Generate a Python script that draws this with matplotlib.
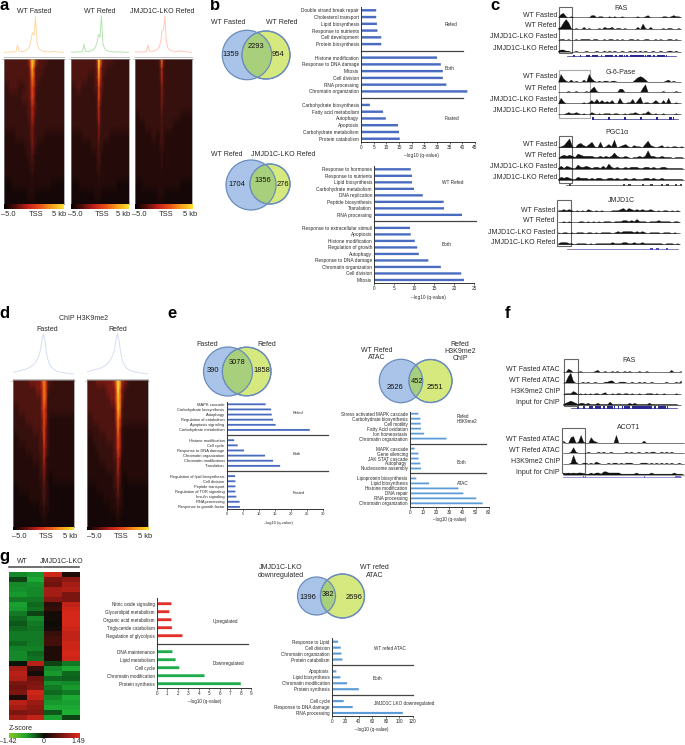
import numpy as np
import matplotlib
matplotlib.use('Agg')
import matplotlib.pyplot as plt
from matplotlib.colors import LinearSegmentedColormap
from matplotlib.patches import Circle, Rectangle

plt.rcParams['font.family'] = ['Liberation Sans', 'DejaVu Sans']

W, H = 685, 745
TXT = '#2a2a2a'

# ---- heatmap digit maps (0 dark .. 9 yellow)
a_fasted = ['33333333 46985 33322222', '33333333 35863 33222222', '33333333 34763 32222222', '22333223 34653 22222222',
            '22222233 34652 22222222', '22222222 33543 22222222', '22222222 33542 22222222', '22222222 23432 22222222',
            '11112222 23432 22111111', '11111112 22432 11111111', '11111111 22321 11111111', '11111111 12221 11111111',
            '11111111 11211 11111111', '00011111 11111 11110000', '00000000 11110 00000000', '00000000 00000 00000000']
a_refed = ['33333333 35974 33322222', '33333333 34853 32222222', '33333322 34753 22222222', '22332222 33643 22222222',
           '22222222 23642 22222222', '22222222 23532 22222222', '22222222 23532 22222222', '22222222 22432 22222222',
           '11112222 22422 22111111', '11111112 22322 11111111', '11111111 12321 11111111', '11111111 12221 11111111',
           '11111111 11211 11111111', '00011111 11111 11110000', '00000000 11110 00000000', '00000000 00000 00000000']
a_lko = ['22222222 24742 22222222', '22222222 23532 22222222', '22222222 23532 22222222', '22222222 22432 22222222',
         '22222222 22432 22222222', '22222222 22422 22222222', '11222222 22322 22221111', '11112222 22322 22111111',
         '11111122 12321 11111111', '11111111 12221 11111111', '11111111 11211 11111111', '11111111 11211 11111111',
         '11111111 11111 11111111', '00011111 11111 11110000', '00000000 11110 00000000', '00000000 00000 00000000']
d_fasted = ['33333444 46763 32222222', '33333334 45763 22222222', '33333333 35762 22222222', '22333333 35652 22222222',
            '22223333 34652 11111111', '22222233 34642 11111111', '11222222 33642 11111111', '11112222 33542 11111111',
            '11111122 23531 11111111', '11111111 23431 11111111', '11111111 22421 01111111', '00111111 12321 00000000',
            '00000111 12321 00000000', '00000000 11211 00000000', '00000000 01110 00000000', '00000000 00000 00000000']
d_refed = ['33344444 57985 43222222', '33333344 46974 32222222', '33333334 46874 22222222', '33333333 35873 22222222',
           '22333333 35763 22222222', '22223333 34752 11111111', '11222233 34652 11111111', '11122222 34652 11111111',
           '11112222 33541 11111111', '11111122 23531 11111111', '11111111 23431 01111111', '00011111 22421 00000000',
           '00000111 12321 00000000', '00000001 11211 00000000', '00000000 01110 00000000', '00000000 00000 00000000']

# ---- tss profiles
a1_profile = [.02, .02, .02, .03, .03, .03, .03, .03, .04, .22, .05, .04, .04, .05, .06, .08, .11, .18, .34, .55, .48, 1.0, .28, .14, .09, .06, .05, .04, .04, .03, .03, .03, .03, .04, .04, .03, .03, .02, .02, .02, .02]
a2_profile = [.02, .02, .02, .03, .03, .03, .03, .03, .04, .24, .05, .04, .04, .05, .06, .08, .11, .17, .30, .50, .42, 1.0, .26, .13, .08, .06, .05, .04, .04, .03, .03, .03, .03, .03, .03, .03, .02, .02, .02, .02, .02]
a3_profile = [.03, .03, .03, .03, .03, .03, .03, .03, .04, .22, .06, .05, .05, .05, .06, .08, .11, .16, .30, .60, .62, 1.0, .30, .14, .09, .07, .05, .05, .04, .04, .05, .04, .06, .05, .04, .04, .03, .03, .02, .02, .02]
d1_profile = [.06, .07, .08, .09, .10, .11, .12, .13, .14, .15, .17, .19, .21, .24, .27, .32, .38, .47, .60, .85, 1.0, .82, .52, .36, .26, .20, .16, .13, .11, .09, .08, .07, .06, .06, .05, .05, .04, .04, .03, .03, .03]
d2_profile = [.08, .09, .10, .11, .12, .13, .14, .15, .16, .17, .19, .21, .23, .26, .30, .35, .41, .50, .62, .86, 1.0, .84, .56, .38, .28, .21, .17, .14, .12, .10, .09, .08, .07, .06, .06, .05, .05, .04, .04, .03, .03]

# ---- panel b
b1_labels = ['Double strand break repair', 'Cholesterol transport', 'Lipid biosynthesis', 'Response to nutrients', 'Cell development', 'Protein biosynthesis', '',
             'Histone modification', 'Response to DNA damage', 'Mitosis', 'Cell division', 'RNA processing', 'Chromatin organization', '',
             'Carbohydrate biosynthesis', 'Fatty acid metabolism', 'Autophagy', 'Apoptosis', 'Carbohydrate metabolism', 'Protein catabolism']
b1_values = [6, 6, 6.3, 6.5, 8, 8, 0, 30, 31.5, 32.3, 32.3, 33.7, 42, 0, 3.5, 8.7, 9.8, 14.6, 15, 15.3]
b2_labels = ['Response to hormones', 'Response to nutrients', 'Lipid biosynthesis', 'Carbohydrate metabolism', 'DNA replication', 'Peptide biosynthesis', 'Translation', 'RNA processing', '',
             'Response to extracellular stimuli', 'Apoptosis', 'Histone modification', 'Regulation of growth', 'Autophagy', 'Response to DNA damage', 'Chromatin organization', 'Cell division', 'Mitosis']
b2_values = [9.2, 9.5, 9.5, 10, 12.2, 17.4, 17.5, 22, 0, 9, 9.2, 10.2, 10.8, 11.2, 13.6, 16.7, 21.8, 22.5]

# ---- panel e
e1_labels = ['MAPK cascade', 'Carbohydrate biosynthesis', 'Autophagy', 'Regulation of catabolism', 'Apoptosis signaling', 'Carbohydrate metabolism', '',
             'Histone modification', 'Cell cycle', 'Response to DNA damage', 'Chromatin organization', 'Chromatin modification', 'Translation', '',
             'Regulation of lipid biosynthesis', 'Cell division', 'Peptide transport', 'Regulation of TOR signaling', 'Insulin signaling', 'RNA processing', 'Response to growth factor']
e1_values = [12.1, 13.8, 14, 14.4, 15.2, 25.8, 0, 2.3, 3.4, 5.4, 11.9, 14.4, 16.6, 0, 2.6, 2.7, 2.7, 2.7, 3, 4, 4.1]
e2_labels = ['Stress activated MAPK cascade', 'Carbohydrate biosynthesis', 'Cell motility', 'Fatty Acid oxidation', 'Ion homeostasis', 'Chromatin organization', '',
             'MAPK cascade', 'Gene silencing', 'JAK STAT cascade', 'Autophagy', 'Nucleosome assembly', '',
             'Lipoprotein biosynthesis', 'Lipid biosynthesis', 'Histone modification', 'DNA repair', 'RNA processing', 'Chromatin organization']
e2_values = [6.6, 8.1, 8.4, 8.6, 11, 28, 0, 3.8, 6.6, 6.8, 8.1, 8.6, 0, 5, 14.7, 37, 40.8, 50.6, 55.4]

# ---- panel g
g1_labels = ['Nitric oxide signaling', 'Glycerolipid metabolism', 'Organic acid metabolism', 'Triglyceride catabolism', 'Regulation of glycolysis', '',
             'DNA maintenance', 'Lipid metabolism', 'Cell cycle', 'Chromatin modification', 'Protein synthesis']
g1_values = [1.4, 1.2, 1.4, 1.45, 2.45, 0, 1.5, 1.8, 2.15, 4.55, 8]
g2_labels = ['Response to Lipid', 'Cell division', 'Chromatin organization', 'Protein catabolism', '',
             'Apoptosis', 'Lipid biosynthesis', 'Chromatin modification', 'Protein synthesis', '',
             'Cell cycle', 'Response to DNA damage', 'RNA processing']
g2_values = [9.4, 13.3, 14.3, 15.8, 0, 6.9, 12.8, 22.7, 40, 0, 17.7, 31, 105]
g_col1 = [-.7, -.3, -.7, -.75, -.8, -.6, -.85, -.8, -.6, -.5, -.4, -.5, -.6, -.6, -.5, -.65, -.7, -.7, -.05, .7, .8, .75, .5, .45, .5, .1, .8, .7, .5, .7]
g_col2 = [-.8, -.9, -.75, -.7, -.7, -.6, -.5, -.55, -.3, -.7, -.6, -.55, -.6, -.6, -.6, -.65, -.5, -.55, .8, .2, .05, .45, .5, .55, .9, .85, .65, .6, .55, .85]
g_col3 = [.9, .5, .45, .7, .7, .55, .15, .2, .05, .05, .02, .05, .2, .25, .25, .1, .1, .1, -.3, -.7, -.8, -.5, -.75, -.6, -.5, -.7, -.8, -.9, -.4, -.85]
g_col4 = [.1, .6, .7, .75, .5, .5, .85, .9, .95, .95, .95, .9, .85, .85, .9, .9, .95, .9, -.6, -.9, -.5, -.45, -.7, -.8, -.6, -.9, -.85, -.9, -.95, -.3]

# ---- venn counts
venn_b1 = [1359, 2293, 954]
venn_b2 = [1704, 1356, 276]
venn_e1 = [390, 3078, 1858]
venn_e2 = [2626, 452, 2551]
venn_g = [1396, 382, 2696]

# ---- genome browser signal, one digit per bin
fas_tracks = ['0341010000000220110010100100000100120000011012110',
              '1269610100201000102112011010000205102000010110010',
              '0110100101111011001011010100110100110010100110100',
              '1221100100010001001010100100101010100100100110100']
g6p_tracks = ['0731020100207310101101100000002454200000001201000',
              '0000100100010351000000003300000004700000010000100',
              '0520000000101314131213005101140360110131030500100',
              '0001211210100210101110110010112101131010010000100']
pgc_tracks = ['0125810342135105013170123102110362101201011010',
              '0232321432222112121252112101121272211211101110',
              '1313211422321221315212112122211221211221111110',
              '1323211322212122112212112112111221211211111110']
jmj_tracks = ['1121210101021010100011123132121211210101101010',
              '0010100011010101011101112212131110111211110110',
              '1011010111011010111101212222121210111101110100',
              '1222110111101011111121112211211211111110111010']
f1_tracks = ['0032000100000120010010100101000100100000000020001',
             '0169200010100100011220011100100101001000001000102',
             '0111320101010110120010110110100100111010010000100',
             '1234321221211121111311111112121111121111111111100']
f2_tracks = ['2005601710052100000007000000000020000000000000000',
             '0001510000100010100100000101001001011001010100000',
             '0001820011010210001011010111000111010101010100100',
             '2121212211121221332222211111121111121111111121110']

exons_fas = '00010010011011101011110101111011111111110101111100000'
exons_g6p = '2000000001000000001000000001000000001000000111000'

# colormaps
hot = LinearSegmentedColormap.from_list('hotmap', ['#150707', '#240b09', '#36100d', '#4e1410', '#7c1a12', '#b02815', '#dc4415', '#f07a14', '#fbb51c', '#ffe04a'])
hot_bar = LinearSegmentedColormap.from_list('hotbar', ['#050000', '#5a0f0a', '#c8201a', '#e8501a', '#f8a018', '#ffe030'])
grn_red = LinearSegmentedColormap.from_list('grnred', ['#1fb838', '#0f6a20', '#0a0a06', '#7a1510', '#e02a1c'])
z_bar = LinearSegmentedColormap.from_list('zbar', ['#86c81e', '#1fa030', '#0a0a06', '#7a1510', '#e02a1c'])

fig = plt.figure(figsize=(W / 100, H / 100), dpi=100)
canvas = fig.add_axes([0, 0, 1, 1])
canvas.set_xlim(0, W)
canvas.set_ylim(H, 0)
canvas.axis('off')


def px_axes(x0, y0, x1, y1):
    return fig.add_axes([x0 / W, 1 - y1 / H, (x1 - x0) / W, (y1 - y0) / H])


def label(x, y, s, size=5.0, ha='center', **kw):
    canvas.text(x, y, s, fontsize=size, ha=ha, va='center', color=kw.pop('color', TXT), **kw)


def heat_panel(rows, profile, color, x0, x1, top, base, ytop, ybot, bar_h, lab_y, lab_x, center=0):
    ax = px_axes(x0, top, x1, base)
    ax.plot(np.linspace(-5000, 5000, len(profile)), profile, color=color, lw=0.7)
    ax.set_xlim(-5000, 5000)
    ax.set_ylim(0, 1.02)
    ax.set_yticks([])
    for s in ['top', 'left', 'right']:
        ax.spines[s].set_visible(False)
    ax.spines['bottom'].set_position(('outward', 3))
    ax.spines['bottom'].set_color('#aaaaaa')
    ax.spines['bottom'].set_linewidth(0.5)
    ax.set_xticks([-5000, -2500, 0, 2500, 5000])
    ax.set_xticklabels(['-5000', '-2500', '0', '2500', '5000'], fontsize=1.6, color='#777777')
    ax.tick_params(length=0.8, width=0.3, pad=0.2, color='#aaaaaa')
    ax.patch.set_alpha(0)

    grid = np.array([[int(c) for c in r.replace(' ', '')] for r in rows])
    # 5 central bins are narrow so the TSS strip stays thin
    xs = np.concatenate([np.linspace(-5000, center - 1100, 8),
                         center + np.array([-650, -300, 0, 300, 650]),
                         np.linspace(center + 1100, 5000, 8)])
    hm = px_axes(x0, ytop, x1, ybot)
    hm.pcolormesh(xs, np.arange(len(rows)), grid, cmap=hot, vmin=0, vmax=9, shading='gouraud')
    hm.set_ylim(len(rows) - 1, 0)
    hm.set_xticks([])
    hm.set_yticks([])
    for s in hm.spines.values():
        s.set_color('#888888')
        s.set_linewidth(0.5)

    cb = px_axes(x0, ybot, x1, ybot + bar_h)
    cb.imshow(np.linspace(0, 1, 128)[None, :], cmap=hot_bar, aspect='auto')
    cb.axis('off')
    for x, s in zip(lab_x, ['–5.0', 'TSS', '5 kb']):
        label(x, lab_y, s, size=5.4)


def venn(counts, c1, r1, c2, r2, pos):
    blue = Circle(c1, r1, fc='#a9c4e8', ec='#6a8cbc', lw=0.9)
    green = Circle(c2, r2, fc='#d5e97e', ec='#6a8cbc', lw=0.9)
    overlap = Circle(c1, r1, fc='#a8cf7c', ec='#6a8cbc', lw=0.9)
    canvas.add_patch(blue)
    canvas.add_patch(green)
    canvas.add_patch(overlap)
    overlap.set_clip_path(Circle(c2, r2, transform=canvas.transData))
    canvas.add_patch(Circle(c2, r2, fc='none', ec='#6a8cbc', lw=0.9))
    for p, n in zip(pos, counts):
        label(p[0], p[1], str(n), size=5.4, color='#111111')


def bar_panel(labels, values, colors, x0, x1, xmax, ytop, ybot, slot0, step, ticks, size, sep_to, xlab):
    ax = px_axes(x0, ytop, x1, ybot)
    ax.patch.set_alpha(0)
    slots = np.arange(len(labels))
    keep = [i for i in slots if labels[i]]
    bars = ax.barh([slots[i] for i in keep], [values[i] for i in keep], height=0.36,
                   color=[colors[i] if isinstance(colors, list) else colors for i in keep])
    for b in bars:
        b.set_snap(False)
    ax.set_xlim(0, xmax)
    ax.set_ylim((ybot - slot0) / step, (ytop - slot0) / step)
    ax.set_yticks(keep)
    ax.set_yticklabels([labels[i] for i in keep], fontsize=size, color=TXT)
    ax.set_xticks(ticks)
    ax.tick_params(axis='x', labelsize=size, length=1.2, width=0.4, pad=1, labelcolor=TXT)
    ax.tick_params(axis='y', length=0, pad=1.5)
    for s in ['top', 'right']:
        ax.spines[s].set_visible(False)
    for s in ['left', 'bottom']:
        ax.spines[s].set_color('#333333')
        ax.spines[s].set_linewidth(0.7)
    for i in slots:
        if not labels[i]:
            ax.plot([0, sep_to], [i, i], color='#444444', lw=0.9, clip_on=False)
    label(xlab[0], xlab[1], '–log10 (q-value)', size=size)


def tracks(rows, x0, x1, bases, box, box_color='#666666', height=10):
    for row, base in zip(rows, bases):
        ax = px_axes(x0, base - height, x1, base)
        ax.axis('off')
        vals = [int(c) for c in row]
        ax.fill_between(np.arange(len(vals)), 0, vals, color='#111111', lw=0.2)
        ax.set_xlim(0, len(vals) - 1)
        ax.set_ylim(0, 9)
    canvas.add_patch(Rectangle((box[0], box[1]), box[2] - box[0], box[3] - box[1], fc='none', ec=box_color, lw=0.8, zorder=5))


def gene(x0, x1, y, exons, color='#2a2a90'):
    canvas.plot([x0, x1], [y, y], color=color, lw=0.5)
    xs = np.linspace(x0, x1, len(exons))
    step = xs[1] - xs[0]
    for x, c in zip(xs, exons):
        if c != '0':
            canvas.add_patch(Rectangle((x, y - 1.1), step * 0.9, 2.2, fc=color, ec='none'))


# panel letters
for x, y, s in [(4, 6, 'a'), (215, 6, 'b'), (495, 6, 'c'), (4, 314, 'd'), (172, 314, 'e'), (508, 314, 'f'), (4, 556, 'g')]:
    label(x, y, s, size=12, weight='bold', color='black')

# a
label(34, 11.5, 'WT Fasted')
label(100, 11.5, 'WT Refed')
label(162, 11.5, 'JMJD1C-LKO Refed')
heat_panel(a_fasted, a1_profile, '#ffd9a8', 4, 64, 15, 53, 59, 204, 5, 214, [8, 36, 59], center=-300)
heat_panel(a_refed, a2_profile, '#b5e6b0', 71, 129, 15, 53, 59, 204, 5, 214, [75, 102, 123], center=-200)
heat_panel(a_lko, a3_profile, '#ffc8bc', 135, 192, 15, 53, 59, 204, 5, 214, [139, 166, 190], center=-300)

# b
label(228, 22, 'WT Fasted')
label(282, 22, 'WT Refed')
venn(venn_b1, (247, 55), 24.7, (266, 55), 24, [(231, 54), (256, 46), (278, 54)])
bar_panel(b1_labels, b1_values, '#4a6cc0', 361, 475, 45, 7, 142, 10.3, 6.76, list(range(0, 46, 5)), 3.4, 40.3, (421, 156))
label(451, 25, 'Refed', size=3.4)
label(450, 68, 'Both', size=3.4)
label(452, 119, 'Fasted', size=3.4)

label(227, 154, 'WT Refed')
label(283, 154, 'JMJD1C-LKO Refed')
venn(venn_b2, (251, 185), 25, (270, 184), 20, [(237, 185), (263, 181), (283, 185)])
bar_panel(b2_labels, b2_values, '#4a6cc0', 374, 474, 25, 166, 282.7, 169.3, 6.51, list(range(0, 26, 5)), 3.4, 25.5, (428, 297))
label(453, 182, 'WT Refed', size=3.4)
label(447, 245, 'Both', size=3.4)

# c
c_names = ['WT Fasted', 'WT Refed', 'JMJD1C-LKO Fasted', 'JMJD1C-LKO Refed']
label(621, 9, 'FAS')
for y, s in zip([15.3, 25.7, 37, 48], c_names):
    label(557, y, s, ha='right')
tracks(fas_tracks, 558, 681, [17.3, 29, 40, 51.7], (559, 7, 572, 53))
gene(567, 676, 55.7, exons_fas)

label(621, 72, 'G-6-Pase')
for y, s in zip([77, 88, 99.3, 110.3], c_names):
    label(557, y, s, ha='right')
tracks(g6p_tracks, 558, 681, [81.7, 92, 103.3, 114.3], (559, 69.7, 590, 117.7), '#aaaaaa')
gene(592, 678, 118.5, exons_g6p)

label(617, 132.7, 'PGC1α')
for y, s in zip([145, 155.7, 166.7, 177.7], c_names):
    label(557, y, s, ha='right')
tracks(pgc_tracks, 558, 684, [147.3, 158, 169, 180], (559, 136, 572, 182.7))
gene(566, 680, 184.7, '0100000000000000000001010000100100010100101', '#444444')

label(621, 200, 'JMJD1C')
for y, s in zip([210, 220.7, 232, 243], c_names):
    label(555, y, s, ha='right')
tracks(jmj_tracks, 558, 680, [211.3, 222.3, 233.3, 244.3], (557.3, 200.3, 570.7, 246.3))
gene(567, 678, 249.3, '0000000000000000000000000001010010000', '#5050b0')

# d
label(84, 318, 'ChIP H3K9me2')
label(47, 329.5, 'Fasted')
label(118, 329.5, 'Refed')
heat_panel(d_fasted, d1_profile, '#d4def2', 13, 74, 333, 375, 380, 527, 3.5, 536, [19, 46, 70], center=100)
heat_panel(d_refed, d2_profile, '#d4def2', 87, 148, 333, 375, 380, 527, 3.5, 536, [94, 121, 145], center=100)

# e
label(207, 344, 'Fasted')
label(267, 344, 'Refed')
venn(venn_e1, (228, 371.5), 24.5, (246.7, 371.5), 24.3, [(213, 370), (237, 362), (262, 370)])
bar_panel(e1_labels, e1_values, '#4a6cc0', 226.7, 323.3, 30, 402, 509.3, 404.3, 5.13, list(range(0, 31, 5)), 2.9, 31.5, (278, 523))
label(298, 413, 'Refed', size=2.9)
label(297, 453.7, 'Both', size=2.9)
label(299, 493, 'Fasted', size=2.9)

label(377, 354, 'WT Refed\nATAC', linespacing=1.1)
label(460, 351.5, 'Refed\nH3K9me2\nChIP', linespacing=1.1)
venn(venn_e2, (401, 381), 21.7, (430.5, 381), 21.5, [(394.7, 387.7), (416.7, 381.7), (435, 387.7)])
bar_panel(e2_labels, e2_values, '#5b9bd8', 409.7, 488.7, 60, 411.7, 507, 413.7, 4.98, list(range(0, 61, 10)), 3.3, 58, (449.7, 520))
label(456.7, 419, 'Refed\nH3K9me2', size=3.3, ha='left')
label(461.7, 462, 'Both', size=3.3)
label(463, 483.7, 'ATAC', size=3.3)

# f
f_names = ['WT Fasted ATAC', 'WT Refed ATAC', 'H3K9me2 ChIP', 'Input for ChIP']
label(629, 361, 'FAS')
for y, s in zip([369.7, 380.3, 391.7, 402.7], f_names):
    label(560, y, s, ha='right')
tracks(f1_tracks, 563, 681, [372, 382.7, 394.3, 405], (564, 359.3, 577.7, 406))
gene(570.7, 676.7, 407.5, exons_fas)

label(629, 427.7, 'ACOT1')
for y, s in zip([439.7, 450.7, 461.7, 473], f_names):
    label(560, y, s, ha='right')
tracks(f2_tracks, 563, 684, [442.7, 452.7, 463.7, 474.7], (562.3, 428.3, 585.3, 473.3))
gene(563, 681, 477, '0000000000110000000000000000000000000000010000000000000001110', '#7070c8')

# g
label(22, 561.5, 'WT')
label(62, 561.5, 'JMJD1C-LKO')
canvas.plot([9, 41.7], [566.7, 566.7], color='#555555', lw=1.2)
canvas.plot([44.3, 79.3], [566.7, 566.7], color='#555555', lw=1.2)
g_hm = px_axes(9, 572, 79.3, 720)
g_hm.imshow(np.array([g_col1, g_col2, g_col3, g_col4]).T, cmap=grn_red, vmin=-1, vmax=1, aspect='auto', interpolation='nearest')
g_hm.axis('off')
label(9, 728, 'Z-score', ha='left')
g_cb = px_axes(9, 733.3, 79.3, 737.7)
g_cb.imshow(np.linspace(0, 1, 128)[None, :], cmap=z_bar, aspect='auto')
g_cb.axis('off')
for x, s in zip([8, 43.7, 78], ['–1.42', '0', '1.49']):
    label(x, 741.5, s, size=5.0)

g1_colors = ['#e0322a'] * 6 + ['#1fae4b'] * 5
bar_panel(g1_labels, g1_values, g1_colors, 156.7, 251.3, 9, 598, 687.7, 603.7, 8, list(range(0, 10)), 3.3, 8.7, (204.7, 701.7))
label(225, 621.7, 'Upregulated', size=3.3)
label(228, 663.3, 'Downregulated', size=3.3)

label(281, 571.5, 'JMJD1C-LKO\ndownregulated', linespacing=1.1)
label(374.7, 571.5, 'WT refed\nATAC', linespacing=1.1)
venn(venn_g, (316.5, 596), 19, (342.5, 596), 22, [(308.3, 597.3), (328.3, 594.3), (354.3, 597.3)])
bar_panel(g2_labels, g2_values, '#5b9bd8', 331.7, 413, 120, 638, 716, 641.7, 5.94, list(range(0, 121, 20)), 3.3, 120, (372, 730))
label(390, 648.3, 'WT refed ATAC', size=3.3)
label(377.7, 678.3, 'Both', size=3.3)
label(404, 703.7, 'JMJD1C LKO downregulated', size=3.3)

fig.savefig('out.png', dpi=100)
